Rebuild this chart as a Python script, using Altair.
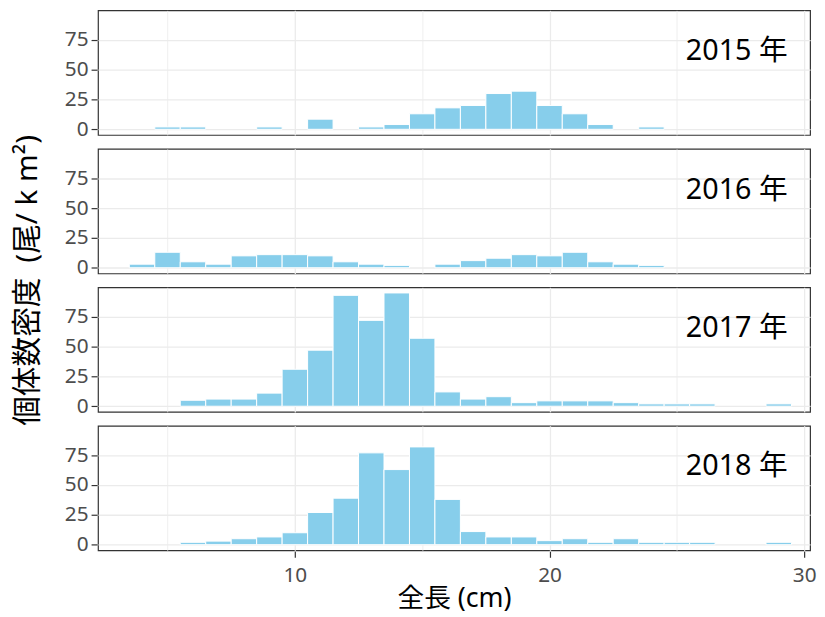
import altair as alt
import pandas as pd

years = ["2015", "2016", "2017", "2018"]

len_2015 = [5, 6, 9, 11, 13, 14, 15, 16, 17, 18, 19, 20, 21, 22, 24]
dens_2015 = [2, 2, 2, 8.5, 2, 4, 13, 18, 20, 30, 32, 20, 13, 4, 2]

len_2016 = [4, 5, 6, 7, 8, 9, 10, 11, 12, 13, 14, 16, 17, 18, 19, 20, 21, 22, 23, 24]
dens_2016 = [3, 13, 5, 3, 10, 11, 11, 10, 5, 3, 2, 3, 6, 8, 11, 10, 13, 5, 3, 2]

len_2017 = [6, 7, 8, 9, 10, 11, 12, 13, 14, 15, 16, 17, 18, 19, 20, 21, 22, 23, 24, 25, 26, 29]
dens_2017 = [5, 6, 6, 11, 31, 47, 93, 72, 95, 57, 12, 6, 8, 3, 4.5, 4.5, 4.5, 3, 2, 2, 2, 2]

len_2018 = [6, 7, 8, 9, 10, 11, 12, 13, 14, 15, 16, 17, 18, 19, 20, 21, 22, 23, 24, 25, 26, 29]
dens_2018 = [2, 3, 5, 6.5, 10, 27, 39, 77, 63, 82, 38, 11, 6.5, 6.5, 3.4, 5, 2, 5, 2, 2, 2, 2]

x_ticks = [5, 10, 15, 20, 25, 30]
y_ticks = [0, 12.5, 25, 37.5, 50, 62.5, 75, 87.5]

rows = []
for yr, ls, ds in zip(years, [len_2015, len_2016, len_2017, len_2018],
                      [dens_2015, dens_2016, dens_2017, dens_2018]):
    for l, d in zip(ls, ds):
        rows.append({"year": yr, "len": l, "dens": d})
df = pd.DataFrame(rows)

FONT = "Noto Sans, Noto Sans CJK JP"

x_scale = alt.Scale(domain=[2.27, 30.23], nice=False, zero=False)
y_scale = alt.Scale(domain=[-4.75, 99.75], nice=False, zero=False)

x_axis = alt.Axis(
    values=x_ticks,
    labelExpr="datum.value % 10 === 0 ? datum.label : ''",
    labelFlush=False,
    labelPadding=8,
    tickOpacity={"condition": {"test": "datum.value % 10 === 0", "value": 1}, "value": 0},
    gridWidth={"condition": {"test": "datum.value % 10 === 0", "value": 1.3}, "value": 0.8},
    title="全長 (cm)",
)
y_axis = alt.Axis(
    values=y_ticks,
    labelExpr="datum.value % 25 === 0 ? datum.label : ''",
    labelPadding=3,
    tickOpacity={"condition": {"test": "datum.value % 25 === 0", "value": 1}, "value": 0},
    gridWidth={"condition": {"test": "datum.value % 25 === 0", "value": 1.3}, "value": 0.8},
    title=None,
)

bars = alt.Chart().transform_calculate(
    lo="datum.len - 0.5", hi="datum.len + 0.5"
).mark_bar(color="#87CEEB", stroke="white", strokeWidth=1).encode(
    x=alt.X("lo:Q", scale=x_scale, axis=x_axis),
    x2="hi:Q",
    y=alt.Y("dens:Q", scale=y_scale, axis=y_axis),
    y2=alt.datum(0),
)

labels = alt.Chart().transform_aggregate(
    n="count()", groupby=["year"]
).transform_calculate(
    label="datum.year + ' 年'"
).mark_text(
    font=FONT, fontSize=29, color="black", align="center", baseline="middle"
).encode(
    x=alt.datum(27.35),
    y=alt.datum(65.5),
    text="label:N",
)

chart = alt.layer(bars, labels, data=df).properties(
    width=720, height=126
).facet(
    row=alt.Row(
        "year:N",
        header=alt.Header(
            labels=False,
            title="個体数密度\u2002(尾/ k m²)",
            titleFont=FONT,
            titleFontSize=30,
            titleColor="black",
            titleFontWeight="normal",
            titlePadding=11,
        ),
    ),
    spacing=12,
).properties(
    padding={"left": 4, "top": -2, "right": 0, "bottom": 2}
).configure_view(
    stroke="#333333", strokeWidth=1.2
).configure_axis(
    domain=False,
    gridColor="#EBEBEB",
    tickColor="#333333",
    tickSize=6,
    tickWidth=1.2,
    labelColor="#4D4D4D",
    labelFont=FONT,
    labelFontSize=21,
    titleFont=FONT,
    titleFontSize=27,
    titleColor="black",
    titleFontWeight="normal",
    titlePadding=0,
)

chart.save("out.html", embed_options={"renderer": "svg", "actions": False})
